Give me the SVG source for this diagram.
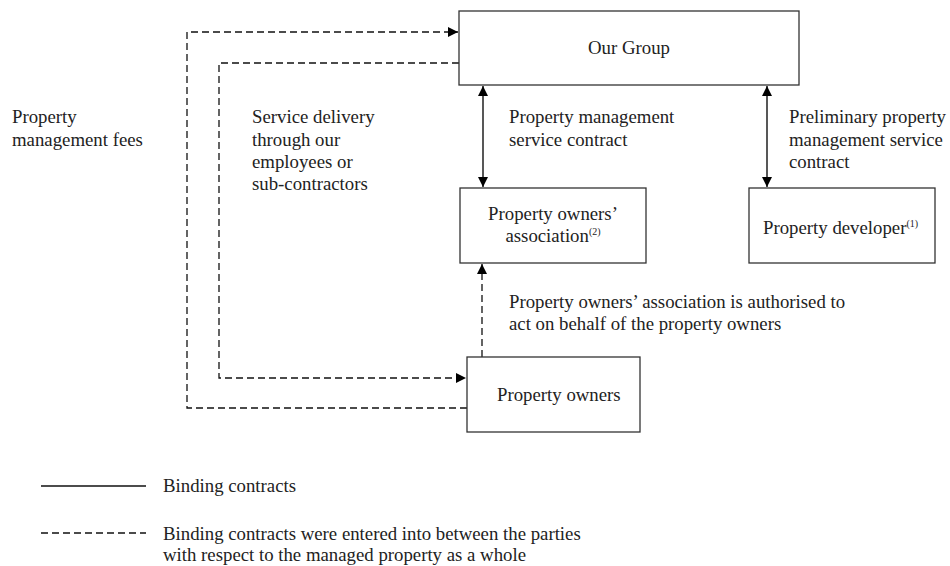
<svg xmlns="http://www.w3.org/2000/svg" width="950" height="566" viewBox="0 0 950 566">
  <style>
    .box { fill: #ffffff; stroke: #333333; stroke-width: 1.3; }
    .solid { fill: none; stroke: #111111; stroke-width: 1.4; }
    .dash { fill: none; stroke: #111111; stroke-width: 1.3; stroke-dasharray: 7 4; }
    text { font-family: "Liberation Serif", "Times New Roman", serif; font-size: 18.8px; fill: #222222; }
    .c { text-anchor: middle; }
    .sup { font-size: 10px; }
  </style>
  <defs>
    <marker id="arr" viewBox="0 0 10 10" refX="10" refY="5" markerWidth="10" markerHeight="10" markerUnits="userSpaceOnUse" orient="auto-start-reverse">
      <path d="M0,0 L10,5 L0,10 Z" fill="#000000"/>
    </marker>
  </defs>

  <rect width="950" height="566" fill="#ffffff"/>

  <g id="connectors">
    <!-- fees: property owners back to the group -->
    <polyline class="dash" points="467,408 187,408 187,32 458,32" marker-end="url(#arr)"/>
    <!-- service delivery: group to property owners -->
    <polyline class="dash" points="459,63 219,63 219,378 466,378" marker-end="url(#arr)"/>
    <!-- owners authorise the association -->
    <line class="dash" x1="482" y1="357" x2="482" y2="264" marker-end="url(#arr)"/>
    <!-- contracts -->
    <line class="solid" x1="483" y1="86" x2="483" y2="187" marker-start="url(#arr)" marker-end="url(#arr)"/>
    <line class="solid" x1="767" y1="86" x2="767" y2="187" marker-start="url(#arr)" marker-end="url(#arr)"/>
  </g>

  <g id="group">
    <rect class="box" x="459" y="11" width="340" height="74"/>
    <text class="c" x="629" y="54">Our Group</text>
  </g>

  <g id="association">
    <rect class="box" x="460" y="188" width="186" height="75"/>
    <text class="c" x="553" y="220">Property owners’</text>
    <text class="c" x="553" y="242">association<tspan class="sup" dy="-7">(2)</tspan></text>
  </g>

  <g id="developer">
    <rect class="box" x="749" y="188" width="186" height="75"/>
    <text x="763" y="234">Property developer<tspan class="sup" dy="-7">(1)</tspan></text>
  </g>

  <g id="owners">
    <rect class="box" x="467" y="357" width="173" height="75"/>
    <text x="497" y="401">Property owners</text>
  </g>

  <g id="labels">
    <text x="12" y="123">Property</text>
    <text x="12" y="146">management fees</text>
    <text x="252" y="123">Service delivery</text>
    <text x="252" y="146">through our</text>
    <text x="252" y="168">employees or</text>
    <text x="252" y="190">sub-contractors</text>
    <text x="509" y="123">Property management</text>
    <text x="509" y="146">service contract</text>
    <text x="789" y="123">Preliminary property</text>
    <text x="789" y="146">management service</text>
    <text x="789" y="168">contract</text>
    <text x="509" y="308">Property owners’ association is authorised to</text>
    <text x="509" y="330">act on behalf of the property owners</text>
  </g>

  <g id="legend">
    <line class="solid" x1="41" y1="486" x2="146" y2="486"/>
    <text x="163" y="492">Binding contracts</text>
    <line class="dash" x1="41" y1="533" x2="146" y2="533"/>
    <text x="163" y="540">Binding contracts were entered into between the parties</text>
    <text x="163" y="561">with respect to the managed property as a whole</text>
  </g>
</svg>
